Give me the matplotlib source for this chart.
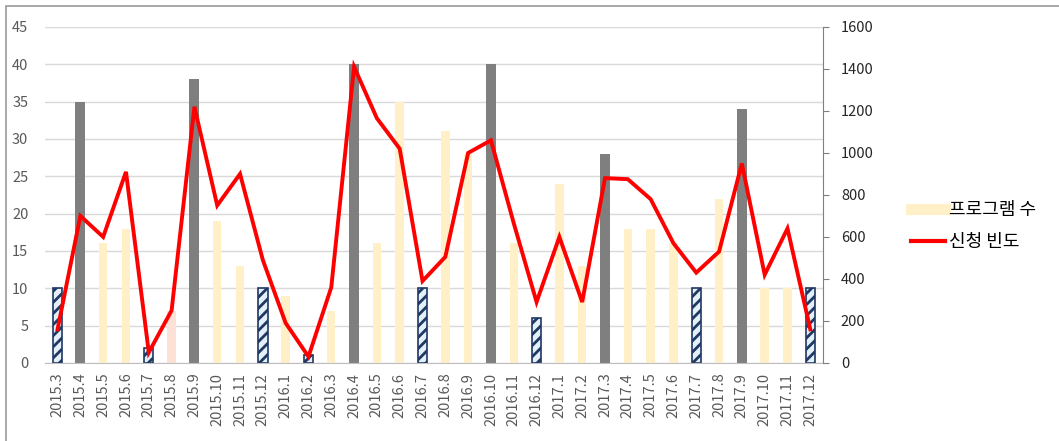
import numpy as np
import matplotlib
matplotlib.use('Agg')
import matplotlib.pyplot as plt
from matplotlib.lines import Line2D

plt.rcParams['font.family'] = ['Noto Sans CJK KR', 'DejaVu Sans']
plt.rcParams['hatch.linewidth'] = 2.0
plt.rcParams['hatch.color'] = '#1f3864'

# months 2015.3 .. 2017.12
months = ['2015.3', '2015.4', '2015.5', '2015.6', '2015.7', '2015.8', '2015.9',
          '2015.10', '2015.11', '2015.12',
          '2016.1', '2016.2', '2016.3', '2016.4', '2016.5', '2016.6', '2016.7',
          '2016.8', '2016.9', '2016.10', '2016.11', '2016.12',
          '2017.1', '2017.2', '2017.3', '2017.4', '2017.5', '2017.6', '2017.7',
          '2017.8', '2017.9', '2017.10', '2017.11', '2017.12']

# number of programs (left axis)
programs = [10, 35, 16, 18, 2, 7, 38, 19, 13, 10,
            9, 1, 7, 40, 16, 35, 10, 31, 28, 40, 16, 6,
            24, 13, 28, 18, 18, 16, 10, 22, 34, 10, 10, 10]

# bar style per month: h = hatched, g = gray, c = cream, p = pale pink
kinds = ['h', 'g', 'c', 'c', 'h', 'p', 'g', 'c', 'c', 'h',
         'c', 'h', 'c', 'g', 'c', 'c', 'h', 'c', 'c', 'g', 'c', 'h',
         'c', 'c', 'g', 'c', 'c', 'c', 'h', 'c', 'g', 'c', 'c', 'h']

# application frequency (right axis)
requests = [160, 700, 600, 910, 50, 250, 1220, 750, 900, 490,
            190, 30, 360, 1410, 1165, 1020, 390, 505, 1000, 1060, 665, 290,
            600, 290, 880, 875, 780, 570, 430, 530, 950, 420, 640, 160]

legend_labels = ['프로그램 수', '신청 빈도']

cream = '#fff0c8'
styles = {
    'c': dict(color=cream, width=0.37),
    'p': dict(color='#fde1d6', width=0.37),
    'g': dict(color='#7f7f7f', width=0.44),
    'h': dict(color='#e4f0f8', width=0.41, hatch='///', edgecolor='#1f3864', linewidth=1.2),
}

fig = plt.figure(figsize=(10.59, 4.41), dpi=100)
ax = fig.add_axes([0.0425, 0.177, 0.7345, 0.762])
x = np.arange(len(months))

for k in styles:
    idx = [i for i in range(len(months)) if kinds[i] == k]
    ax.bar(x[idx], [programs[i] for i in idx], zorder=2, **styles[k])

ax.set_ylim(0, 45)
ax.set_yticks(np.arange(0, 46, 5))
ax.set_xlim(-0.55, 33.55)
ax.set_xticks(x)
ax.set_xticklabels(months, rotation=90, fontsize=10.5, color='#595959')
ax.tick_params(axis='y', length=0, labelsize=10.5, labelcolor='#595959', pad=12)
ax.tick_params(axis='x', length=0, pad=7)
ax.grid(axis='y', color='#d9d9d9', lw=1, zorder=0)
ax.set_axisbelow(True)
for s in ['top', 'right', 'left']:
    ax.spines[s].set_visible(False)
ax.spines['bottom'].set_color('#bfbfbf')

ax2 = ax.twinx()
ax2.plot(x, requests, color='#ff0000', lw=2.8, zorder=5, solid_joinstyle='miter')
ax2.set_ylim(0, 1600)
ax2.set_yticks(np.arange(0, 1601, 200))
ax2.tick_params(axis='y', length=4, color='#7f7f7f', labelsize=10.5,
                labelcolor='#262626', pad=9)
for s in ['top', 'left', 'bottom']:
    ax2.spines[s].set_visible(False)
ax2.spines['right'].set_color('#7f7f7f')

handles = [Line2D([0], [0], color=cream, lw=8),
           Line2D([0], [0], color='#ff0000', lw=3)]
fig.legend(handles, legend_labels, loc='center left', bbox_to_anchor=(0.845, 0.487),
           frameon=False, fontsize=13, handlelength=1.9, handletextpad=0.2,
           labelspacing=0.8)

# outer chart border
fig.add_artist(plt.Rectangle((0.006, -0.05), 1.2, 1.036, transform=fig.transFigure,
                             fill=False, edgecolor='#999999', lw=1.2))

fig.savefig('out.png', dpi=100)
